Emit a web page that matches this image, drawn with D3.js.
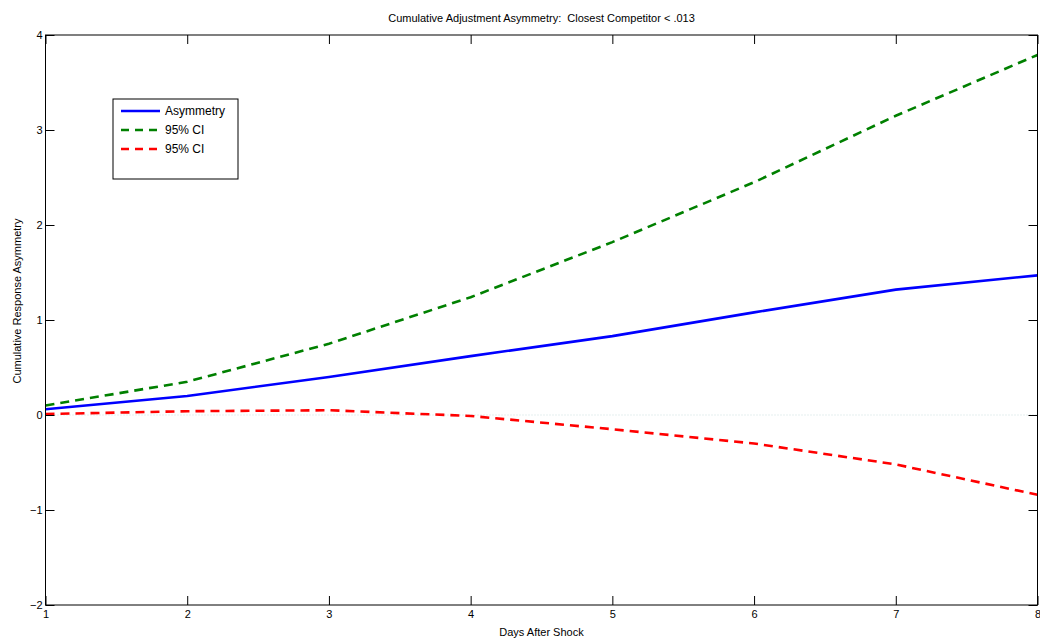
<!DOCTYPE html>
<html>
<head>
<meta charset="utf-8">
<script src="https://cdn.jsdelivr.net/npm/d3@7"></script>
<style>
  body { margin: 0; background: #fff; }
  text { font-family: "Liberation Sans", Arial, sans-serif; fill: #000; white-space: pre; }
</style>
</head>
<body>
<div id="chart"></div>
<script>
var days = [1, 2, 3, 4, 5, 6, 7, 8];
var asymmetry = [0.06, 0.20, 0.40, 0.62, 0.83, 1.08, 1.32, 1.47];
var ciUpper = [0.10, 0.35, 0.75, 1.24, 1.82, 2.45, 3.15, 3.79];
var ciLower = [0.01, 0.04, 0.05, -0.01, -0.15, -0.30, -0.52, -0.84];
var yTicks = [-2, -1, 0, 1, 2, 3, 4];
var seriesNames = ["Asymmetry", "95% CI", "95% CI"];

var width = 1040, height = 639;
var plotLeft = 45.5, plotRight = 1037.5, plotTop = 35, plotBottom = 605;

var svg = d3.select("#chart").append("svg")
  .attr("width", width).attr("height", height);

var x = d3.scaleLinear().domain([1, 8]).range([plotLeft, plotRight]);
var y = d3.scaleLinear().domain([-2, 4]).range([plotBottom, plotTop]);

var fmt = function(d){ return d < 0 ? "\u2212" + Math.abs(d) : String(d); };

// zero line
svg.append("line")
  .attr("x1", x(1)).attr("x2", x(8))
  .attr("y1", y(0)).attr("y2", y(0))
  .attr("stroke", "#c9dede").attr("stroke-width", 1)
  .attr("stroke-dasharray", "1,2");

var line = d3.line()
  .x(function(d, i){ return x(days[i]); })
  .y(function(d){ return y(d); });

var series = [
  { vals: ciUpper, color: "#008000", dash: "9,6" },
  { vals: ciLower, color: "#ff0000", dash: "9,6" },
  { vals: asymmetry, color: "#0000ff", dash: null }
];

series.forEach(function(s){
  svg.append("path")
    .datum(s.vals)
    .attr("d", line)
    .attr("fill", "none")
    .attr("stroke", s.color)
    .attr("stroke-width", 2.6)
    .attr("stroke-dasharray", s.dash);
});

// axes box
svg.append("rect")
  .attr("x", plotLeft).attr("y", plotTop)
  .attr("width", plotRight - plotLeft).attr("height", plotBottom - plotTop)
  .attr("fill", "none").attr("stroke", "#000").attr("stroke-width", 1);

var tickLen = 9;
var xAxis = svg.append("g").attr("transform", "translate(0," + plotBottom + ")")
  .call(d3.axisBottom(x).tickValues(days).tickSize(-tickLen).tickPadding(5).tickFormat(fmt));
var xAxisTop = svg.append("g").attr("transform", "translate(0," + plotTop + ")")
  .call(d3.axisTop(x).tickValues(days).tickSize(-tickLen).tickFormat(""));
var yAxis = svg.append("g").attr("transform", "translate(" + plotLeft + ",0)")
  .call(d3.axisLeft(y).tickValues(yTicks).tickSize(-tickLen).tickPadding(3).tickFormat(fmt));
var yAxisRight = svg.append("g").attr("transform", "translate(" + plotRight + ",0)")
  .call(d3.axisRight(y).tickValues(yTicks).tickSize(-tickLen).tickFormat(""));

[xAxis, xAxisTop, yAxis, yAxisRight].forEach(function(g){
  g.select(".domain").remove();
  g.selectAll("text").attr("font-size", 11).attr("font-family", "Liberation Sans, Arial, sans-serif");
  g.selectAll("line").attr("stroke", "#000");
});

svg.append("text")
  .attr("x", (plotLeft + plotRight) / 2).attr("y", 22)
  .attr("text-anchor", "middle").attr("font-size", 11)
  .text("Cumulative Adjustment Asymmetry:  Closest Competitor < .013");

svg.append("text")
  .attr("x", (plotLeft + plotRight) / 2).attr("y", 636)
  .attr("text-anchor", "middle").attr("font-size", 11)
  .text("Days After Shock");

svg.append("text")
  .attr("transform", "translate(21,301) rotate(-90)")
  .attr("text-anchor", "middle").attr("font-size", 11)
  .text("Cumulative Response Asymmetry");

// legend
var lg = svg.append("g");
lg.append("rect")
  .attr("x", 113).attr("y", 99).attr("width", 125).attr("height", 80)
  .attr("fill", "#fff").attr("stroke", "#000").attr("stroke-width", 1);

var legendItems = [
  { name: seriesNames[0], color: "#0000ff", dash: null },
  { name: seriesNames[1], color: "#008000", dash: "8,6" },
  { name: seriesNames[2], color: "#ff0000", dash: "8,6" }
];
legendItems.forEach(function(d, i){
  var ly = 111 + i * 19;
  lg.append("line")
    .attr("x1", 121).attr("x2", 160).attr("y1", ly).attr("y2", ly)
    .attr("stroke", d.color).attr("stroke-width", 2.6)
    .attr("stroke-dasharray", d.dash);
  lg.append("text")
    .attr("x", 165).attr("y", ly + 4).attr("font-size", 12)
    .text(d.name);
});
</script>
</body>
</html>
